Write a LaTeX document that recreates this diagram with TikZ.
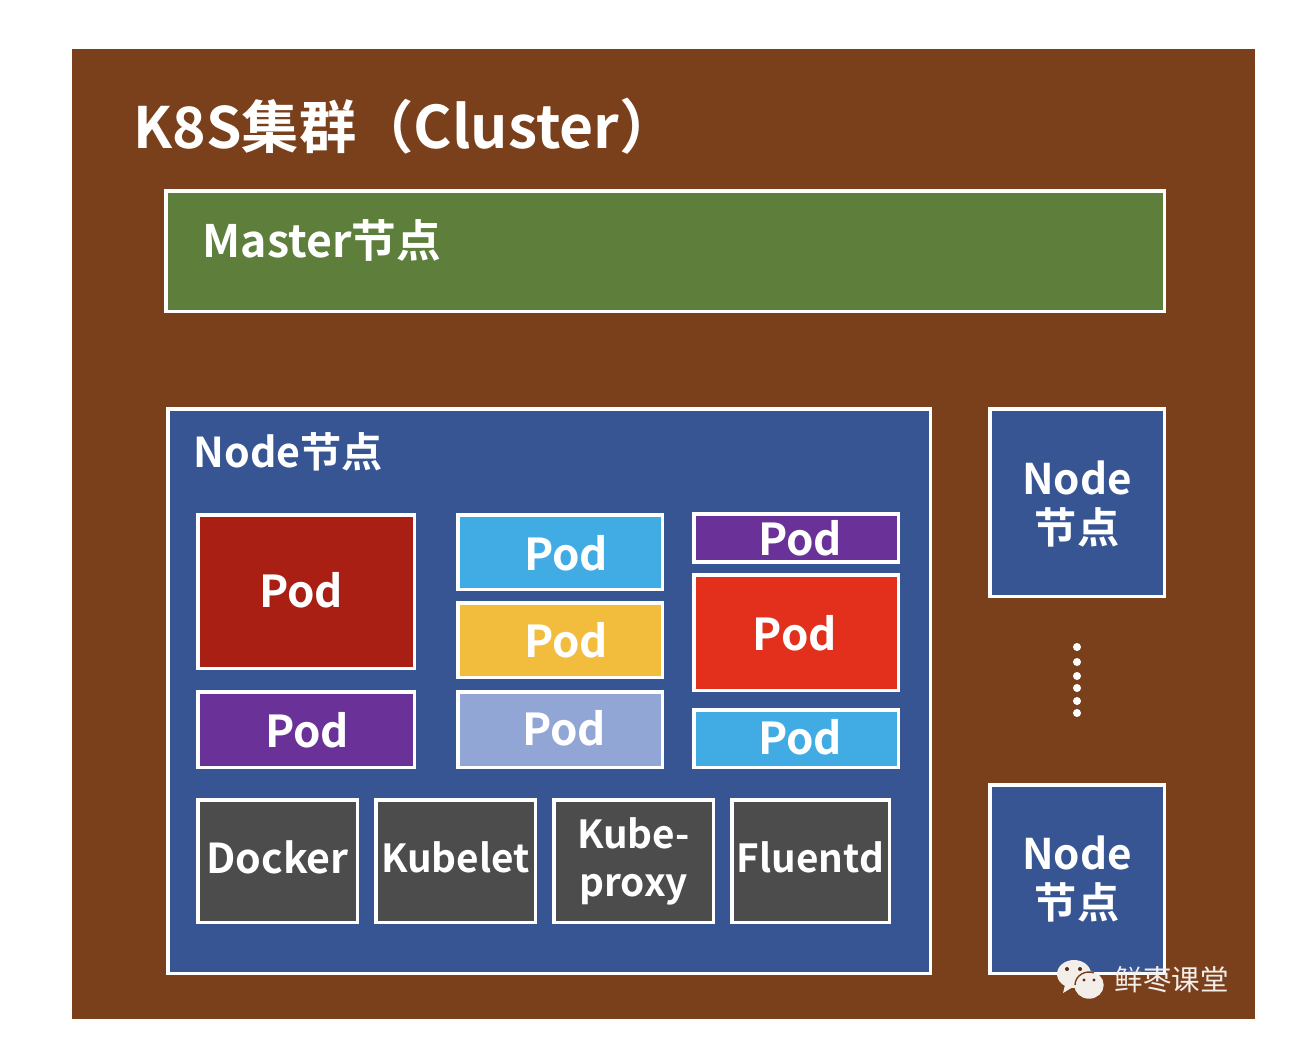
\documentclass[tikz,border=0pt]{standalone}
\usepackage{fontspec}
\setmainfont{Noto Sans CJK SC}[BoldFont={Noto Sans CJK SC Bold}]
\definecolor{clusterbrown}{HTML}{7A401C}
\definecolor{mastergreen}{HTML}{5E7F3C}
\definecolor{nodeblue}{HTML}{365592}
\definecolor{poddarkred}{HTML}{A91F14}
\definecolor{podpurple}{HTML}{6A3298}
\definecolor{podcyan}{HTML}{41ABE4}
\definecolor{podyellow}{HTML}{F2BC3C}
\definecolor{podlilac}{HTML}{92A6D6}
\definecolor{podred}{HTML}{E3301C}
\definecolor{agentgrey}{HTML}{4C4C4C}
\definecolor{markwhite}{HTML}{F3EEEA}
\newcommand{\podtext}[1]{\hspace*{#1}Pod}
\tikzset{
  whitebox/.style={draw=white, line width=0.88pt, inner sep=0pt, outer sep=0pt, anchor=north west, text=white, align=center},
  podbox/.style={whitebox, font=\bfseries\fontsize{12.5}{14}\selectfont},
  podup/.style={text depth=1.1pt},
  poddown/.style={text height=#1},
  agentbox/.style={whitebox, minimum height=1.22cm, fill=agentgrey, text depth=2.3pt, font=\bfseries\fontsize{11}{13.4}\selectfont},
  sidebox/.style={whitebox, minimum width=1.74cm, fill=nodeblue, font=\bfseries\fontsize{12}{14}\selectfont},
  titletext/.style={anchor=west, text=white, inner sep=0pt, font=\bfseries},
}
\begin{document}
\begin{tikzpicture}[x=0.01cm,y=-0.01cm]
\useasboundingbox (0,0) rectangle (1300,1054);
\fill[white] (0,0) rectangle (1300,1054);
\fill[clusterbrown] (72,49) rectangle (1255,1019);
\node[titletext] (clustertitle) at (133,126) {\fontsize{16.2}{22}\selectfont K8S\fontsize{16.3}{22}\selectfont 集群（\fontsize{16.7}{22}\selectfont Cluster）};
\node[whitebox, fill=mastergreen, minimum width=9.98cm, minimum height=1.2cm] (master) at (166,191) {};
\node[titletext, font=\bfseries\fontsize{12.7}{15}\selectfont] (mastertitle) at (202,240) {Master节点};

\node[whitebox, fill=nodeblue, minimum width=7.62cm, minimum height=5.64cm] (node) at (168,409) {};
\node[titletext, font=\bfseries\fontsize{11.7}{14}\selectfont] (nodetitle) at (193,452) {Node节点};

\node[podbox, podup, fill=poddarkred, minimum width=2.16cm, minimum height=1.53cm] (poda) at (198,515) {\podtext{-2.8pt}};
\node[podbox, poddown=10.3pt, fill=podpurple, minimum width=2.16cm, minimum height=0.75cm] (podb) at (198,692) {\podtext{0.6pt}};
\node[podbox, poddown=10.9pt, fill=podcyan, minimum width=2.04cm, minimum height=0.74cm] (podc) at (458,515) {\podtext{3.4pt}};
\node[podbox, fill=podyellow, minimum width=2.04cm, minimum height=0.74cm] (podd) at (458,603) {\podtext{3.4pt}};
\node[podbox, podup, fill=podlilac, minimum width=2.04cm, minimum height=0.75cm] (pode) at (458,692) {\podtext{2.3pt}};
\node[podbox, poddown=10.3pt, fill=podpurple, minimum width=2.04cm, minimum height=0.48cm] (podf) at (694,514) {\podtext{2.3pt}};
\node[podbox, poddown=10.3pt, fill=podred, minimum width=2.04cm, minimum height=1.15cm] (podg) at (694,575) {\podtext{-0.6pt}};
\node[podbox, podup, fill=podcyan, minimum width=2.04cm, minimum height=0.57cm] (podh) at (694,710) {\podtext{2.3pt}};

\node[agentbox, minimum width=1.59cm, font=\bfseries\fontsize{11.7}{13.4}\selectfont] (docker) at (198,800) {Docker};
\node[agentbox, minimum width=1.59cm] (kubelet) at (376,800) {Kubelet};
\node[agentbox, minimum width=1.59cm] (proxy) at (554,800) {Kube-\\proxy};
\node[agentbox, minimum width=1.57cm] (fluentd) at (732,800) {Fluentd};

\node[sidebox, minimum height=1.87cm] (nodeb) at (990,409) {\rule{0pt}{10.2pt}Node\\节点};
\node[sidebox, minimum height=1.88cm] (nodec) at (990,785) {Node\\节点};
\foreach \doty in {647,662,676,688,701,713}
  \fill[white] (1077,\doty) circle (4);

% watermark
\fill[markwhite] (1074,974) ellipse (17 and 14);
\fill[markwhite] (1065,985) -- (1063,993) -- (1073,987) -- cycle;
\draw[markwhite!100, fill=markwhite] (1089,985) ellipse (14 and 13);
\draw[clusterbrown, line width=0.4pt] (1075,985) arc (180:290:14 and 13);
\fill[clusterbrown!70!black] (1067,969) circle (2) (1080,969) circle (2) (1084,980) circle (1.7) (1094,980) circle (1.7);
\node[anchor=west, text=markwhite, font=\fontsize{8.1}{10}\selectfont, inner sep=0pt] (mark) at (1114,980) {鲜枣课堂};
\end{tikzpicture}
\end{document}
